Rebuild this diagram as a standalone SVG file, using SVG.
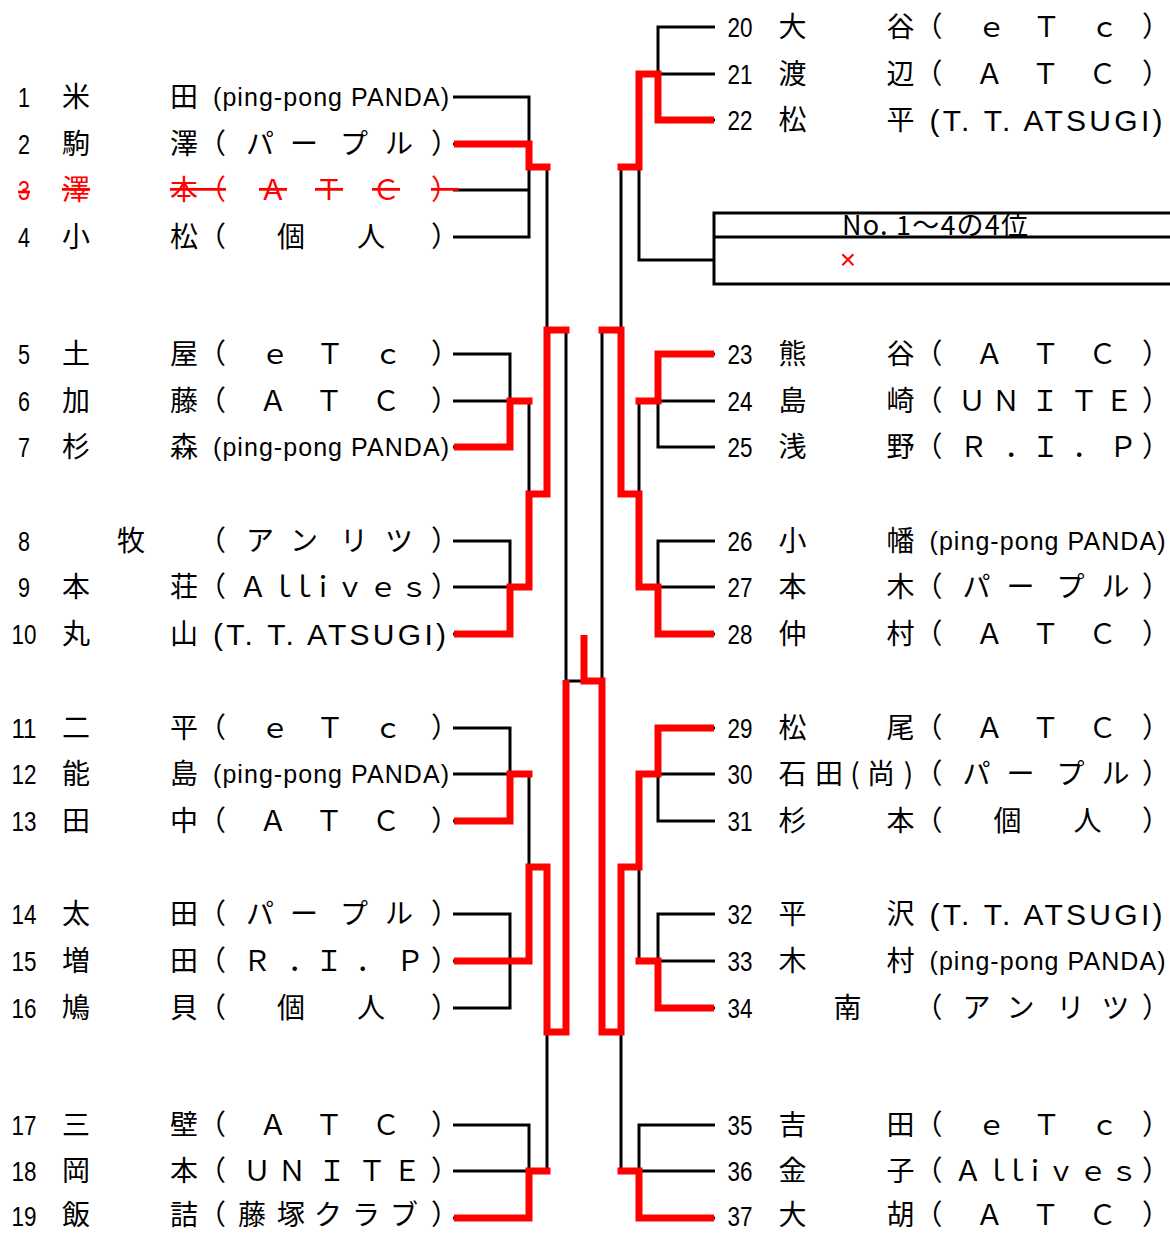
<svg xmlns="http://www.w3.org/2000/svg" width="1170" height="1233" viewBox="0 0 1170 1233">
<style>
.k{stroke:#000;stroke-width:3;fill:none;stroke-linejoin:miter}
.r{stroke:#f00;stroke-width:7;fill:none;stroke-linejoin:miter}
.n{font-family:"Liberation Sans",sans-serif;font-size:27px;text-anchor:middle;fill:#000}
.j{font-family:"Noto Sans CJK JP",sans-serif;font-size:28px;text-anchor:middle;fill:#000}
.p{font-family:"Liberation Sans","Noto Sans CJK JP",sans-serif;font-size:25px;fill:#000}
.q{font-family:"Liberation Sans","Noto Sans CJK JP",sans-serif;font-size:30px;fill:#000}
.del text{fill:#f00;text-decoration:line-through}
.bx{font-family:"Noto Sans CJK JP",sans-serif;font-size:27px;fill:#000}
</style>
<rect width="1170" height="1233" fill="#fff"/>
<g id="connectors">
<path class="k" d="M453,97 H529 V237 H453 M453,144 H529 M453,190 H529 M529,167 H547 V330
M453,354 H510 V447 H453 M453,401 H529 V494
M453,541 H510 V634 H453 M453,587 H529 V494 M529,494 H547 V330 M547,330 H566 V681
M453,728 H510 V821 H453 M453,774 H529 V867
M453,914 H510 V1008 H453 M453,961 H529 V867 M529,867 H547 V1032
M453,1125 H529 V1218 H453 M453,1171 H529 M529,1171 H547 V1032 M547,1032 H566 V681
M566,681 H602
M715,27 H658 V120 H715 M715,74 H639 V260 H714 M639,167 H621 V330
M715,354 H658 V447 H715 M715,401 H639 V494
M715,541 H658 V634 H715 M715,587 H639 V494 M639,494 H621 V330 M621,330 H602 V681
M715,728 H658 V821 H715 M715,774 H639 V867
M715,914 H658 V1008 H715 M715,961 H639 V867 M639,867 H621 V1032
M715,1125 H639 V1218 H715 M715,1171 H639 M639,1171 H621 V1032 M621,1032 H602 V681"/>
<path class="r" d="M454,144 H529 V167 H550.5"/>
<path class="r" d="M454,447 H510 V401 H532.5"/>
<path class="r" d="M454,634 H510 V587 H529 V494 H547 V330 H569.5"/>
<path class="r" d="M454,821 H510 V774 H532.5"/>
<path class="r" d="M454,961 H529 V867 H547 V1032 H566 V680"/>
<path class="r" d="M454,1218 H529 V1171 H550.5"/>
<path class="r" d="M714,120 H658 V74 H639 V167 H617.5"/>
<path class="r" d="M714,354 H658 V401 H635.5"/>
<path class="r" d="M714,634 H658 V587 H639 V494 H621 V330 H598.5"/>
<path class="r" d="M714,728 H658 V774 H639 V867 H621 V1032 H602 V681 H584 V635"/>
<path class="r" d="M714,1008 H658 V961 H635.5"/>
<path class="r" d="M714,1218 H639 V1171 H617.5"/>
</g>
<g id="box4">
<rect class="k" x="714" y="213" width="480" height="71"/>
<line class="k" x1="714" y1="237" x2="1190" y2="237"/>
<text class="bx" x="842" y="235" textLength="186" lengthAdjust="spacing">No. 1～4の4位</text>
<text x="848" y="269" font-family="Liberation Sans,sans-serif" font-size="28" fill="#f00" text-anchor="middle">×</text>
</g>
<g id="p1"><text class="n" x="24" y="107" textLength="12" lengthAdjust="spacingAndGlyphs">1</text><text class="j" x="76 184" y="107">米田</text><text class="p" x="213" y="106" textLength="236" lengthAdjust="spacing">(ping-pong PANDA)</text></g>
<g id="p2"><text class="n" x="24" y="154" textLength="12" lengthAdjust="spacingAndGlyphs">2</text><text class="j" x="76 184" y="154">駒澤</text><text class="j" x="212 260 304 354 399 445" y="154">（パープル）</text></g>
<g id="p3" class="del"><text class="n" x="24" y="200" textLength="12" lengthAdjust="spacingAndGlyphs">3</text><text class="j" x="76 184" y="200">澤本</text><text class="j" x="212 273 329 386 445" y="200">（ＡＴＣ）</text></g>
<g id="p4"><text class="n" x="24" y="247" textLength="12" lengthAdjust="spacingAndGlyphs">4</text><text class="j" x="76 184" y="247">小松</text><text class="j" x="212 291 371 445" y="247">（個人）</text></g>
<g id="p5"><text class="n" x="24" y="364" textLength="12" lengthAdjust="spacingAndGlyphs">5</text><text class="j" x="76 184" y="364">土屋</text><text class="j" x="212 275 330 388 445" y="364">（ｅＴｃ）</text></g>
<g id="p6"><text class="n" x="24" y="411" textLength="12" lengthAdjust="spacingAndGlyphs">6</text><text class="j" x="76 184" y="411">加藤</text><text class="j" x="212 273 329 386 445" y="411">（ＡＴＣ）</text></g>
<g id="p7"><text class="n" x="24" y="457" textLength="12" lengthAdjust="spacingAndGlyphs">7</text><text class="j" x="76 184" y="457">杉森</text><text class="p" x="213" y="456" textLength="236" lengthAdjust="spacing">(ping-pong PANDA)</text></g>
<g id="p8"><text class="n" x="24" y="551" textLength="12" lengthAdjust="spacingAndGlyphs">8</text><text class="j" x="131" y="551">牧</text><text class="j" x="212 260 304 354 399 445" y="551">（アンリツ）</text></g>
<g id="p9"><text class="n" x="24" y="597" textLength="12" lengthAdjust="spacingAndGlyphs">9</text><text class="j" x="76 184" y="597">本荘</text><text class="j" x="212 253 283 303 323 350 383 414 445" y="597">（Ａｌｌｉｖｅｓ）</text></g>
<g id="p10"><text class="n" x="24" y="644" textLength="25" lengthAdjust="spacingAndGlyphs">10</text><text class="j" x="76 184" y="644">丸山</text><text class="q" x="213" y="645" textLength="233" lengthAdjust="spacing">(T. T. ATSUGI)</text></g>
<g id="p11"><text class="n" x="24" y="738" textLength="25" lengthAdjust="spacingAndGlyphs">11</text><text class="j" x="76 184" y="738">二平</text><text class="j" x="212 275 330 388 445" y="738">（ｅＴｃ）</text></g>
<g id="p12"><text class="n" x="24" y="784" textLength="25" lengthAdjust="spacingAndGlyphs">12</text><text class="j" x="76 184" y="784">能島</text><text class="p" x="213" y="783" textLength="236" lengthAdjust="spacing">(ping-pong PANDA)</text></g>
<g id="p13"><text class="n" x="24" y="831" textLength="25" lengthAdjust="spacingAndGlyphs">13</text><text class="j" x="76 184" y="831">田中</text><text class="j" x="212 273 329 386 445" y="831">（ＡＴＣ）</text></g>
<g id="p14"><text class="n" x="24" y="924" textLength="25" lengthAdjust="spacingAndGlyphs">14</text><text class="j" x="76 184" y="924">太田</text><text class="j" x="212 260 304 354 399 445" y="924">（パープル）</text></g>
<g id="p15"><text class="n" x="24" y="971" textLength="25" lengthAdjust="spacingAndGlyphs">15</text><text class="j" x="76 184" y="971">増田</text><text class="j" x="212 257 302 329 370 410 445" y="971">（Ｒ．Ｉ．Ｐ）</text></g>
<g id="p16"><text class="n" x="24" y="1018" textLength="25" lengthAdjust="spacingAndGlyphs">16</text><text class="j" x="76 184" y="1018">鳩貝</text><text class="j" x="212 291 371 445" y="1018">（個人）</text></g>
<g id="p17"><text class="n" x="24" y="1135" textLength="25" lengthAdjust="spacingAndGlyphs">17</text><text class="j" x="76 184" y="1135">三壁</text><text class="j" x="212 273 329 386 445" y="1135">（ＡＴＣ）</text></g>
<g id="p18"><text class="n" x="24" y="1181" textLength="25" lengthAdjust="spacingAndGlyphs">18</text><text class="j" x="76 184" y="1181">岡本</text><text class="j" x="212 257 292 332 372 407 445" y="1181">（ＵＮＩＴＥ）</text></g>
<g id="p19"><text class="n" x="24" y="1226" textLength="25" lengthAdjust="spacingAndGlyphs">19</text><text class="j" x="76 184" y="1225">飯詰</text><text class="j" x="212 252 291 328 366 404 445" y="1225">（藤塚クラブ）</text></g>
<g id="p20"><text class="n" x="740" y="37" textLength="25" lengthAdjust="spacingAndGlyphs">20</text><text class="j" x="792.5 900.5" y="37">大谷</text><text class="j" x="928.5 991.5 1046.5 1104.5 1156" y="37">（ｅＴｃ）</text></g>
<g id="p21"><text class="n" x="740" y="84" textLength="25" lengthAdjust="spacingAndGlyphs">21</text><text class="j" x="792.5 900.5" y="84">渡辺</text><text class="j" x="928.5 989.5 1045.5 1102.5 1156" y="84">（ＡＴＣ）</text></g>
<g id="p22"><text class="n" x="740" y="130" textLength="25" lengthAdjust="spacingAndGlyphs">22</text><text class="j" x="792.5 900.5" y="130">松平</text><text class="q" x="929.5" y="131" textLength="233" lengthAdjust="spacing">(T. T. ATSUGI)</text></g>
<g id="p23"><text class="n" x="740" y="364" textLength="25" lengthAdjust="spacingAndGlyphs">23</text><text class="j" x="792.5 900.5" y="364">熊谷</text><text class="j" x="928.5 989.5 1045.5 1102.5 1156" y="364">（ＡＴＣ）</text></g>
<g id="p24"><text class="n" x="740" y="411" textLength="25" lengthAdjust="spacingAndGlyphs">24</text><text class="j" x="792.5 900.5" y="411">島崎</text><text class="j" x="928.5 972 1006 1045 1084 1119 1156" y="411">（ＵＮＩＴＥ）</text></g>
<g id="p25"><text class="n" x="740" y="457" textLength="25" lengthAdjust="spacingAndGlyphs">25</text><text class="j" x="792.5 900.5" y="457">浅野</text><text class="j" x="928.5 973.5 1018.5 1045.5 1086.5 1123 1156" y="457">（Ｒ．Ｉ．Ｐ）</text></g>
<g id="p26"><text class="n" x="740" y="551" textLength="25" lengthAdjust="spacingAndGlyphs">26</text><text class="j" x="792.5 900.5" y="551">小幡</text><text class="p" x="929.5" y="550" textLength="236" lengthAdjust="spacing">(ping-pong PANDA)</text></g>
<g id="p27"><text class="n" x="740" y="597" textLength="25" lengthAdjust="spacingAndGlyphs">27</text><text class="j" x="792.5 900.5" y="597">本木</text><text class="j" x="928.5 976.5 1020.5 1070.5 1115.5 1156" y="597">（パープル）</text></g>
<g id="p28"><text class="n" x="740" y="644" textLength="25" lengthAdjust="spacingAndGlyphs">28</text><text class="j" x="792.5 900.5" y="644">仲村</text><text class="j" x="928.5 989.5 1045.5 1102.5 1156" y="644">（ＡＴＣ）</text></g>
<g id="p29"><text class="n" x="740" y="738" textLength="25" lengthAdjust="spacingAndGlyphs">29</text><text class="j" x="792.5 900.5" y="738">松尾</text><text class="j" x="928.5 989.5 1045.5 1102.5 1156" y="738">（ＡＴＣ）</text></g>
<g id="p30"><text class="n" x="740" y="784" textLength="25" lengthAdjust="spacingAndGlyphs">30</text><text class="j" x="792.5 829 855 881 908.5" y="784">石田(尚)</text><text class="j" x="928.5 976.5 1020.5 1070.5 1115.5 1156" y="784">（パープル）</text></g>
<g id="p31"><text class="n" x="740" y="831" textLength="25" lengthAdjust="spacingAndGlyphs">31</text><text class="j" x="792.5 900.5" y="831">杉本</text><text class="j" x="928.5 1007.5 1087.5 1156" y="831">（個人）</text></g>
<g id="p32"><text class="n" x="740" y="924" textLength="25" lengthAdjust="spacingAndGlyphs">32</text><text class="j" x="792.5 900.5" y="924">平沢</text><text class="q" x="929.5" y="925" textLength="233" lengthAdjust="spacing">(T. T. ATSUGI)</text></g>
<g id="p33"><text class="n" x="740" y="971" textLength="25" lengthAdjust="spacingAndGlyphs">33</text><text class="j" x="792.5 900.5" y="971">木村</text><text class="p" x="929.5" y="970" textLength="236" lengthAdjust="spacing">(ping-pong PANDA)</text></g>
<g id="p34"><text class="n" x="740" y="1018" textLength="25" lengthAdjust="spacingAndGlyphs">34</text><text class="j" x="847.5" y="1018">南</text><text class="j" x="928.5 976.5 1020.5 1070.5 1115.5 1156" y="1018">（アンリツ）</text></g>
<g id="p35"><text class="n" x="740" y="1135" textLength="25" lengthAdjust="spacingAndGlyphs">35</text><text class="j" x="792.5 900.5" y="1135">吉田</text><text class="j" x="928.5 991.5 1046.5 1104.5 1156" y="1135">（ｅＴｃ）</text></g>
<g id="p36"><text class="n" x="740" y="1181" textLength="25" lengthAdjust="spacingAndGlyphs">36</text><text class="j" x="792.5 900.5" y="1181">金子</text><text class="j" x="928.5 968 997 1016 1035 1061 1093 1124 1156" y="1181">（Ａｌｌｉｖｅｓ）</text></g>
<g id="p37"><text class="n" x="740" y="1226" textLength="25" lengthAdjust="spacingAndGlyphs">37</text><text class="j" x="792.5 900.5" y="1225">大胡</text><text class="j" x="928.5 989.5 1045.5 1102.5 1156" y="1225">（ＡＴＣ）</text></g>
</svg>
